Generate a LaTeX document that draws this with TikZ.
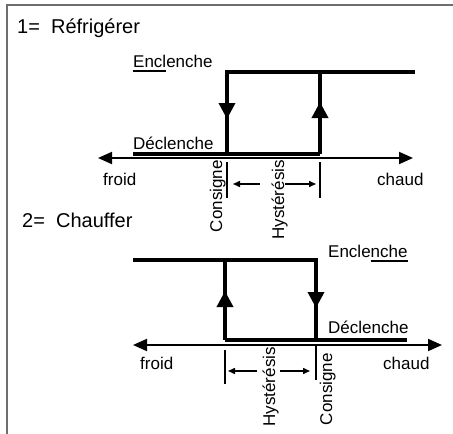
\documentclass[tikz,border=0pt]{standalone}
\usepackage{fontspec}
\setmainfont{Liberation Sans}
\usetikzlibrary{arrows.meta}
\definecolor{cadre}{RGB}{110,110,110}
\newcommand{\souligne}[1]{\setbox0\hbox{#1}\rlap{\rule[-4.5pt]{\wd0}{1.3pt}}#1}
\tikzstyle{courbe}=[line width=3.5pt]
\tikzstyle{palier}=[line width=4.5pt]
\tikzstyle{fleche}=[line width=3.5pt,-{Triangle[length=16pt,width=16pt]}]
\tikzstyle{axe}=[line width=2pt,
  {Triangle[length=14pt,width=12pt]}-{Triangle[length=14pt,width=12pt]}]
\tikzstyle{repere}=[line width=1.8pt]
\tikzstyle{hyst}=[line width=1.5pt,-{Triangle[length=7pt,width=6pt]}]
\tikzstyle{lbl}=[inner sep=0pt,font=\fontsize{17}{19}\selectfont]
\tikzstyle{titre}=[inner sep=0pt,font=\fontsize{20}{23}\selectfont]

\begin{document}
\begin{tikzpicture}[x=1pt,y=-1pt]
    \useasboundingbox (0,0) rectangle (453,434);
    \draw[cadre,line width=2pt] (7,434) -- (7,5) -- (453,5);
    % 1 = refrigerer
    \node [style=titre,anchor=base west] (titre1) at (17,33) {1=\ \ Réfrigérer};
    \coordinate (e1g) at (227,72);
    \coordinate (e1m) at (320,72);
    \coordinate (e1d) at (415,72);
    \coordinate (d1g) at (133,154);
    \coordinate (d1a) at (227,154);
    \coordinate (d1b) at (320,154);
    \coordinate (f1a) at (227,119);
    \coordinate (f1b) at (320,102);
    \coordinate (a1g) at (98,158);
    \coordinate (a1d) at (413,158);
    \coordinate (t1a) at (227,162);
    \coordinate (t1b) at (227,198);
    \coordinate (t1c) at (320,162);
    \coordinate (t1d) at (320,198);
    \coordinate (h1a) at (260,184);
    \coordinate (h1b) at (233,184);
    \coordinate (h1c) at (285,184);
    \coordinate (h1d) at (316,184);
    \draw [style=courbe] (e1d) to (e1g) to (d1a);
    \draw [style=courbe] (e1m) to (d1b);
    \draw [style=palier] (d1g) to (d1b);
    \draw [style=fleche] (e1g) to (f1a);
    \draw [style=fleche] (d1b) to (f1b);
    \draw [style=axe] (a1g) to (a1d);
    \draw [style=repere] (t1a) to (t1b);
    \draw [style=repere] (t1c) to (t1d);
    \draw [style=hyst] (h1a) to (h1b);
    \draw [style=hyst] (h1c) to (h1d);
    \node [style=lbl,anchor=base west] (encl1) at (133,67) {\souligne{Encl}enche};
    \node [style=lbl,anchor=base west] (decl1) at (133,149) {Déclenche};
    \node [style=lbl,anchor=base west] (froid1) at (103,185) {froid};
    \node [style=lbl,anchor=base west] (chaud1) at (377,185) {chaud};
    \node [style=lbl,rotate=90,anchor=base east] (cons1) at (222,160) {Consigne};
    \node [style=lbl,rotate=90,anchor=base east] (hyst1) at (284,160) {Hystérésis};
    % 2 = chauffer
    \node [style=titre,anchor=base west] (titre2) at (22,227) {2=\ \ Chauffer};
    \coordinate (e2g) at (133,260);
    \coordinate (e2m) at (225,260);
    \coordinate (e2d) at (316,260);
    \coordinate (d2a) at (225,340);
    \coordinate (d2b) at (316,340);
    \coordinate (d2d) at (407,340);
    \coordinate (f2a) at (225,291);
    \coordinate (f2b) at (316,308);
    \coordinate (a2g) at (133,345);
    \coordinate (a2d) at (442,345);
    \coordinate (t2a) at (225,350);
    \coordinate (t2b) at (225,384);
    \coordinate (t2c) at (316,345);
    \coordinate (t2d) at (316,380);
    \coordinate (h2a) at (257,371);
    \coordinate (h2b) at (228,371);
    \coordinate (h2c) at (280,371);
    \coordinate (h2d) at (310,371);
    \draw [style=courbe] (e2g) to (e2d) to (d2b);
    \draw [style=courbe] (e2m) to (d2a);
    \draw [style=palier] (d2a) to (d2d);
    \draw [style=fleche] (d2a) to (f2a);
    \draw [style=fleche] (e2d) to (f2b);
    \draw [style=axe] (a2g) to (a2d);
    \draw [style=repere] (t2a) to (t2b);
    \draw [style=repere] (t2c) to (t2d);
    \draw [style=hyst] (h2a) to (h2b);
    \draw [style=hyst] (h2c) to (h2d);
    \node [style=lbl,anchor=base west] (encl2) at (328,257) {Encle\souligne{nche}};
    \node [style=lbl,anchor=base west] (decl2) at (328,333) {Déclenche};
    \node [style=lbl,anchor=base west] (froid2) at (140,369) {froid};
    \node [style=lbl,anchor=base west] (chaud2) at (383,369) {chaud};
    \node [style=lbl,rotate=90,anchor=base east] (hyst2) at (275,347) {Hystérésis};
    \node [style=lbl,rotate=90,anchor=base east] (cons2) at (332,353) {Consigne};
\end{tikzpicture}
\end{document}
